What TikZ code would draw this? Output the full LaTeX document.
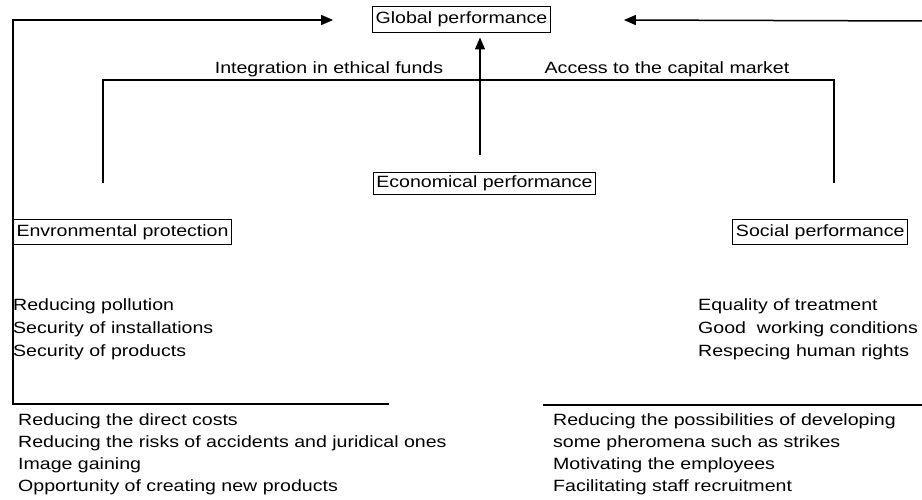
\documentclass[tikz,border=0pt]{standalone}
\usepackage{fontspec}
\setmainfont{Liberation Sans}[FakeStretch=1.2]
\usetikzlibrary{arrows.meta}

\tikzset{
  perfbox/.style={draw, line width=1pt, inner xsep=3pt, inner ysep=0pt,
    text height=12pt, text depth=4pt, minimum height=24pt},
  itemtext/.style={anchor=base west, inner sep=0pt},
  flowline/.style={line width=1.5pt},
  flowarrow/.style={flowline, -{Triangle[length=12pt,width=10pt]}}
}

\begin{document}
\begin{tikzpicture}[x=1pt, y=-1pt, font=\fontsize{16.3}{22}\selectfont]
\useasboundingbox (0,0) rectangle (922,500);
% boxes
\node[perfbox, minimum height=26pt] (global) at (461.5,20) {Global performance};
\node[perfbox, minimum height=22pt] (econ) at (484.5,184) {Economical performance};
\node[perfbox, anchor=west, minimum height=25pt] (env) at (13,232.5) {Envronmental protection};
\node[perfbox, anchor=east, minimum height=25pt] (social) at (908,232.5) {Social performance};
% connector ends
\coordinate (leftbottom) at (389,404);
\coordinate (leftcorner) at (13,404);
\coordinate (rightedge) at (922,21);
\coordinate (rightbottom) at (543,405);
\coordinate (rightend) at (922,405);
\coordinate (fundsleft) at (103,183);
\coordinate (marketright) at (834,183);
\coordinate (econtop) at (480,155);
\draw[flowarrow] (leftbottom) -- (leftcorner) |- ([xshift=-39pt]global.west);
\draw[flowarrow] (rightedge) -- ([xshift=73pt]global.east);
\draw[flowline] (rightbottom) -- (rightend);
\draw[flowline] (fundsleft) -- ++(0,-103) -| (marketright);
\draw[flowarrow] (econtop) -- ([yshift=-4pt]global.south -| econtop);
% labels
\node[anchor=base] (fundslbl) at (329,74) {Integration in ethical funds};
\node[anchor=base] (marketlbl) at (667,74) {Access to the capital market};
% lists
\foreach \txt [count=\i] in {Reducing pollution, Security of installations, Security of products}
    \node[itemtext] (envitem\i) at (13,{310+23*(\i-1)}) {\txt};
\foreach \txt [count=\i] in {Equality of treatment, Good\ \ working conditions, Respecing human rights}
    \node[itemtext] (socitem\i) at (698,{310+23*(\i-1)}) {\txt};
\foreach \txt [count=\i] in {Reducing the direct costs, Reducing the risks of accidents and juridical ones,
    Image gaining, Opportunity of creating new products}
    \node[itemtext] (envgain\i) at (18,{425+22*(\i-1)}) {\txt};
\foreach \txt [count=\i] in {Reducing the possibilities of developing, some pheromena such as strikes,
    Motivating the employees, Facilitating staff recruitment}
    \node[itemtext] (socgain\i) at (553,{425+22*(\i-1)}) {\txt};
\end{tikzpicture}
\end{document}
